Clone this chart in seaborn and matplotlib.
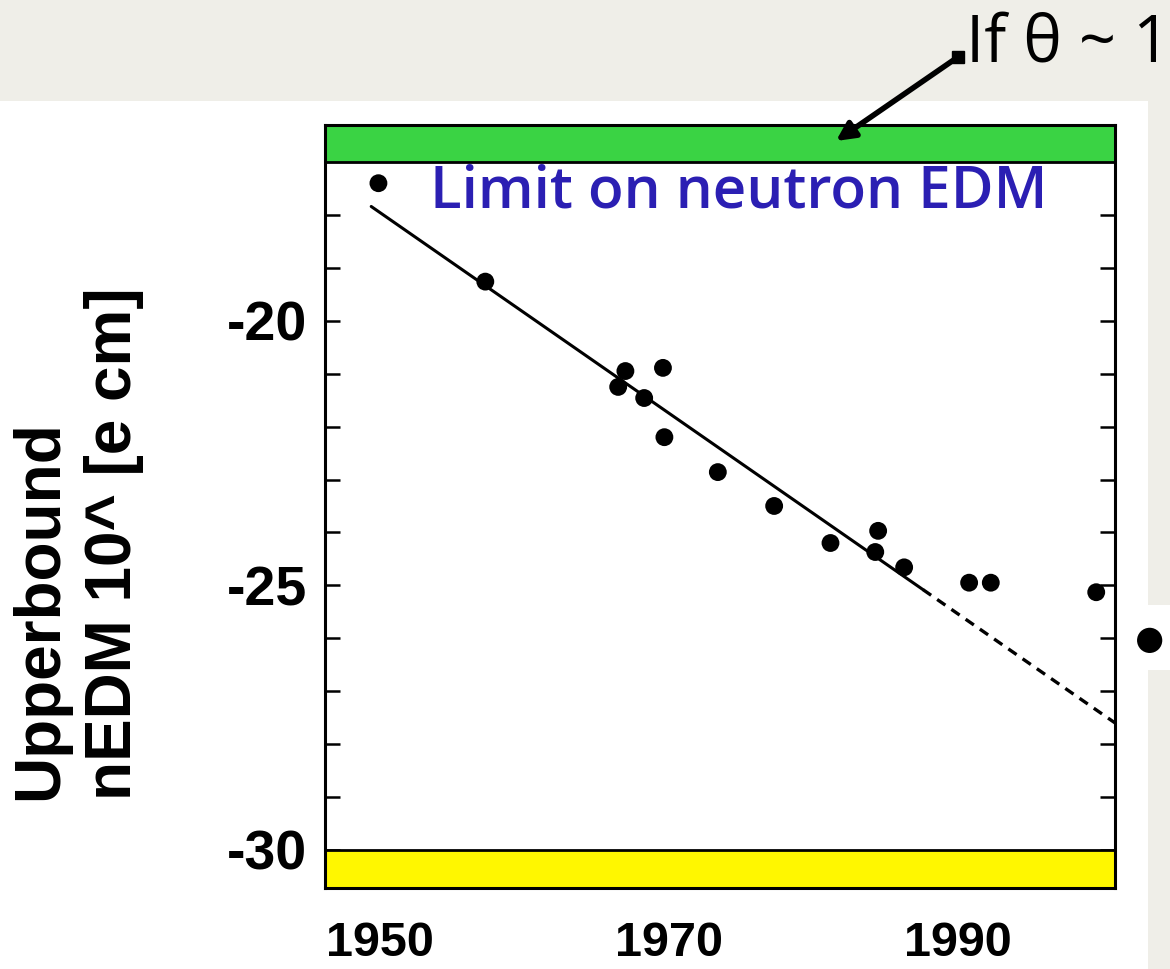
import matplotlib
matplotlib.use("Agg")
import matplotlib.pyplot as plt
import seaborn as sns
import pandas as pd
from matplotlib.patches import Rectangle
from matplotlib.lines import Line2D

# ---- data ----
years = [1949.9, 1957.3, 1966.5, 1967.0, 1968.3, 1969.6, 1969.7, 1973.4, 1977.3,
         1981.2, 1984.5, 1984.3, 1986.3, 1990.8, 1992.3, 1999.6]
log_limit = [-17.4, -19.26, -21.25, -20.95, -21.46, -20.89, -22.2, -22.86, -23.5,
             -24.2, -23.97, -24.37, -24.66, -24.95, -24.95, -25.13]
fit_years = [1949.4, 1987.6]
fit_vals = [-17.84, -25.08]
extrap_years = [1987.6, 2000.9]
extrap_vals = [-25.08, -27.6]
future_year = [2003.3]
future_val = [-26.04]
theta_band = [-17.0, -16.3]      # green band "If theta ~ 1"
floor_band = [-30.72, -30.0]     # yellow band
y_major = [-20, -25, -30]
y_minor = list(range(-30, -17))
x_ticks = [1950, 1970, 1990]
x_labels = ["1950", "1970", "1990"]
ylabel = "Upperbound\nnEDM 10^ [e cm]"
title_txt = "Limit on neutron EDM"
note_txt = "If θ ~ 1"

sns.set_style("ticks")
plt.rcParams["font.family"] = ["Liberation Sans", "DejaVu Sans"]
plt.rcParams["text.color"] = "black"
plt.rcParams["xtick.color"] = "black"
plt.rcParams["ytick.color"] = "black"
plt.rcParams["axes.edgecolor"] = "black"

W, H = 1170, 969
fig = plt.figure(figsize=(W / 100, H / 100), dpi=100)
bg = "#efeee8"
fig.patch.set_facecolor(bg)

# white slide panel
fig.add_artist(Rectangle((0, 0), 1148 / W, 1 - 101 / H, transform=fig.transFigure,
                         facecolor="white", edgecolor="none", zorder=0))
fig.add_artist(Rectangle((1148 / W, 1 - 670 / H), 1, 65 / H, transform=fig.transFigure,
                         facecolor="white", edgecolor="none", zorder=0))

ax = fig.add_axes([325 / W, 1 - 888 / H, (1115 - 325) / W, (888 - 125) / H])
ax.set_facecolor("white")

df = pd.DataFrame({"year": years, "val": log_limit})
fit = pd.DataFrame({"year": fit_years, "val": fit_vals})
ext = pd.DataFrame({"year": extrap_years, "val": extrap_vals})

sns.lineplot(data=fit, x="year", y="val", ax=ax, color="black", lw=2.2,
             estimator=None, sort=False, zorder=3)
sns.lineplot(data=ext, x="year", y="val", ax=ax, color="black", lw=2.4,
             estimator=None, sort=False, zorder=3, dashes=False, linestyle=(0, (3, 2.2)))
sns.scatterplot(data=df, x="year", y="val", ax=ax, color="black", s=165,
                edgecolor="none", zorder=4)
sns.scatterplot(x=future_year, y=future_val, ax=ax, color="black", s=330,
                edgecolor="none", zorder=6, clip_on=False)

ax.axhspan(theta_band[0], theta_band[1], facecolor="#3ad344", edgecolor="black", lw=2, zorder=2)
ax.axhspan(floor_band[0], floor_band[1], facecolor="#fff700", edgecolor="black", lw=2, zorder=2)

ax.set_xlim(1946.2, 2000.9)
ax.set_ylim(floor_band[0], theta_band[1])

ax.set_yticks(y_major)
ax.set_yticks(y_minor, minor=True)
ax.set_yticklabels([str(v) for v in y_major])
ax.set_xticks(x_ticks)
ax.set_xticklabels(x_labels)
ax.tick_params(axis="y", which="both", direction="in", left=True, right=True,
               length=11, width=1.8, pad=13)
ax.tick_params(axis="x", length=0, pad=24)
for lab in ax.get_yticklabels():
    lab.set_fontweight("bold")
    lab.set_fontsize(40)
for lab in ax.get_xticklabels():
    lab.set_fontweight("bold")
    lab.set_fontsize(35)
ax.set_xlabel("")
ax.set_ylabel("")
for s in ax.spines.values():
    s.set_linewidth(2.2)
    s.set_color("black")
    s.set_visible(True)

ax.text(1953.5, -17.58, title_txt, color="#2b1fb3", fontsize=42, fontweight="semibold",
        family=["Open Sans", "DejaVu Sans"], ha="left", va="center", zorder=5)

fig.text(10 / W, 1 - 800 / H, ylabel, rotation=90, ha="left", va="bottom",
         multialignment="left", fontsize=46, fontweight="bold",
         family=["Liberation Sans", "DejaVu Sans"], linespacing=1.3)

fig.text(966 / W, 1 - 62 / H, note_txt, ha="left", va="baseline", fontsize=47,
         family=["Open Sans", "DejaVu Sans"], color="black")

fig.add_artist(Line2D([958 / W], [1 - 57 / H], transform=fig.transFigure, marker="s",
                      markersize=8, color="black"))
ax.annotate("", xy=(836, H - 141), xycoords="figure pixels",
            xytext=(958, H - 57), textcoords="figure pixels",
            arrowprops=dict(arrowstyle="-|>,head_length=1.1,head_width=0.55",
                            color="black", lw=4, shrinkA=0, shrinkB=0),
            annotation_clip=False, zorder=10)

fig.savefig("out.png", dpi=100, facecolor=fig.get_facecolor())
